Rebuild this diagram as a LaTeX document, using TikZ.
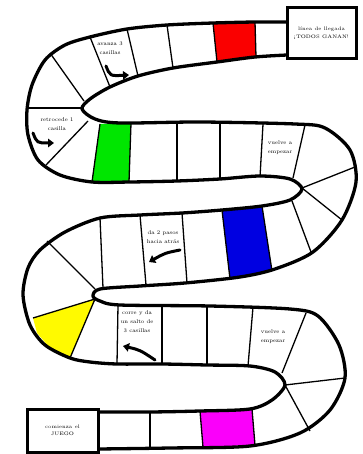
\documentclass[tikz,border=0pt]{standalone}
\usepackage{fontspec}
\usetikzlibrary{arrows.meta}
\definecolor{sqred}{RGB}{250,0,0}
\definecolor{sqgreen}{RGB}{0,230,0}
\definecolor{sqblue}{RGB}{0,0,225}
\definecolor{sqyellow}{RGB}{255,250,0}
\definecolor{sqmagenta}{RGB}{250,0,250}
\begin{document}
\begin{tikzpicture}[
    x=1pt, y=-1pt,
    edge/.style={line width=3.3pt, line join=round, line cap=round},
    cell/.style={line width=1.3pt},
    box/.style={rectangle, draw, line width=3pt, fill=white, align=center, font=\fontsize{5}{7.5}\selectfont},
    note/.style={align=center, font=\fontsize{5.5}{9}\selectfont},
    bigarrow/.style={line width=3pt, line cap=round, -{Triangle[length=6pt, width=8.5pt]}}
]
    \useasboundingbox (0,0) rectangle (362,454);

    % Coloured squares
    \fill[sqred] (213,23) -- (255,22) -- (256,57) -- (217,62) -- cycle;
    \fill[sqgreen] (100,124) -- (131,123) -- (129,182) -- (92,182) -- cycle;
    \fill[sqblue] (222,210) -- (262,206) -- (272,270) -- (230,278) -- cycle;
    \fill[sqyellow] (33,318) -- (95,299) -- (70,358) -- (50,348) -- (37,333) -- cycle;
    \fill[sqmagenta] (200,411) -- (252,409) -- (255,445) -- (203,447) -- cycle;

    % Top row and upper left turn
    \draw[cell] (82,108) -- (27,108);
    \draw[cell] (84,101) -- (50,53);
    \draw[cell] (88,121) -- (46,165);
    \draw[cell] (90,37) -- (110,87);
    \draw[cell] (127,29) -- (138,76);
    \draw[cell] (167,25) -- (173,68);
    \draw[cell] (213,23) -- (217,62);
    \draw[cell] (255,22) -- (256,57);

    % Second row and upper right turn
    \draw[cell] (100,124) -- (92,182);
    \draw[cell] (131,123) -- (129,182);
    \draw[cell] (177,123) -- (177,181);
    \draw[cell] (220,123) -- (220,180);
    \draw[cell] (263,124) -- (260,177);
    \draw[cell] (305,125) -- (293,178);
    \draw[cell] (302,188) -- (355,167);
    \draw[cell] (302,188) -- (342,220);

    % Third row and lower left turn
    \draw[cell] (47,241) -- (95,289);
    \draw[cell] (100,218) -- (103,288);
    \draw[cell] (140,215) -- (146,285);
    \draw[cell] (182,213) -- (187,283);
    \draw[cell] (222,210) -- (230,279);
    \draw[cell] (262,206) -- (272,271);
    \draw[cell] (292,201) -- (311,252);

    % Fourth row and lower right turn
    \draw[cell] (33,318) -- (95,299) -- (70,358);
    \draw[cell] (118,305) -- (117,364);
    \draw[cell] (162,306) -- (162,364);
    \draw[cell] (207,306) -- (207,365);
    \draw[cell] (253,307) -- (248,366);
    \draw[cell] (306,313) -- (282,373);
    \draw[cell] (285,385) -- (345,378);
    \draw[cell] (285,385) -- (310,431);

    % Bottom row
    \draw[cell] (150,412) -- (150,448);
    \draw[cell] (200,411) -- (203,447);
    \draw[cell] (252,409) -- (255,445);

    % Track edges
    \draw[edge] plot[smooth] coordinates {(98,449) (170,448) (250,446) (300,433) (330,410)
        (345,378) (339,345) (318,316) (290,309) (210,306) (120,305) (100,301) (93,296)
        (100,289) (140,286) (185,283) (240,277) (275,269) (313,252) (342,220) (356,182)
        (350,150) (325,128) (295,124) (200,122) (120,123) (95,119) (82,109) (90,99)
        (110,87) (138,76) (173,68) (217,62) (255,57) (287,55)};
    \draw[edge] plot[smooth] coordinates {(98,412) (150,412) (200,411) (250,409) (272,400)
        (285,385) (275,372) (250,366) (207,365) (162,364) (117,364) (90,362) (70,358)
        (45,345) (30,325) (23,295) (28,268) (40,250) (65,232) (100,218) (140,215)
        (182,213) (222,210) (262,206) (290,200) (302,189) (290,179) (260,176) (220,179)
        (177,181) (130,182) (92,182) (60,175) (38,160) (28,135) (27,110) (32,85) (45,60)
        (65,45) (90,37) (127,29) (167,25) (213,23) (255,22) (287,22)};

    % Start and finish
    \node[box, minimum width=69pt, minimum height=51pt] (finish) at (321.5,33.5) {línea de llegada\\¡TODOS GANAN!};
    \node[box, minimum width=71pt, minimum height=43pt] (start) at (62.5,430.5) {comienza el\\JUEGO};

    % Square texts
    \node[note] (advance) at (110,48) {avanza 3\\casillas};
    \node[note] (back) at (57,124) {retrocede 1\\casilla};
    \node[note] (restart1) at (280,148) {vuelve a\\empezar};
    \node[note] (steps) at (163,237) {da 2 pasos\\hacia atrás};
    \node[note] (jump) at (137,322) {corre y da\\un salto de\\3 casillas};
    \node[note] (restart2) at (273,337) {vuelve a\\empezar};

    % Arrows
    \coordinate (advance-a) at (106,66);
    \coordinate (advance-b) at (129,75);
    \coordinate (back-a) at (33,133);
    \coordinate (back-b) at (54,143);
    \coordinate (steps-a) at (180,250);
    \coordinate (steps-b) at (149,262);
    \coordinate (jump-a) at (155,360);
    \coordinate (jump-b) at (123,346);
    \draw[bigarrow] (advance-a) .. controls (110,76) .. (advance-b);
    \draw[bigarrow] (back-a) .. controls (37,143) .. (back-b);
    \draw[bigarrow] (steps-a) .. controls (165,253) .. (steps-b);
    \draw[bigarrow] (jump-a) .. controls (140,350) .. (jump-b);
\end{tikzpicture}
\end{document}
